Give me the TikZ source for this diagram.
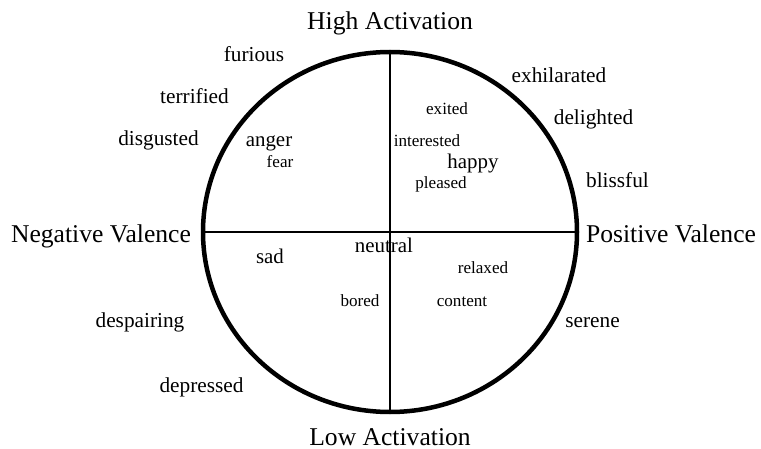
\documentclass[tikz,border=0pt]{standalone}
\usepackage{fontspec}
\setmainfont{Liberation Serif}
\usetikzlibrary{shapes.geometric}

\tikzset{
  lbl/.style={anchor=base, inner sep=0pt, outer sep=0pt},
  axislbl/.style={lbl, font=\fontsize{25.6}{30}\selectfont},
  outerlbl/.style={lbl, font=\fontsize{21.3}{25}\selectfont},
  biglbl/.style={lbl, font=\fontsize{20.9}{25}\selectfont},
  smalllbl/.style={lbl, font=\fontsize{17.1}{21}\selectfont},
  rim/.style={draw, line width=4.5pt, ellipse, inner sep=0pt, outer sep=0pt,
              minimum width=374pt, minimum height=360pt},
  axis/.style={line width=2.2pt}
}

\begin{document}
\begin{tikzpicture}[x=1pt, y=-1pt]
  \useasboundingbox (0,0) rectangle (761,449);

  % circumplex
  \node[rim] (c) at (390,232) {};
  \draw[axis] (c.north) -- (c.south);
  \draw[axis] (c.west) -- (c.east);

  % axis labels
  \node[axislbl] (high) at (390,30) {High Activation};
  \node[axislbl] (low) at (390,445) {Low Activation};
  \node[axislbl] (neg) at (101,243) {Negative Valence};
  \node[axislbl] (pos) at (671,243) {Positive Valence};

  % emotions outside the circle
  \node[outerlbl] (furious) at (254,62) {furious};
  \node[outerlbl] (terrified) at (194.5,104) {terrified};
  \node[outerlbl] (disgusted) at (158.5,146) {disgusted};
  \node[outerlbl] (exhilarated) at (559,83) {exhilarated};
  \node[outerlbl] (delighted) at (593.5,125) {delighted};
  \node[outerlbl] (blissful) at (617.5,188) {blissful};
  \node[outerlbl] (despairing) at (140,327) {despairing};
  \node[outerlbl] (serene) at (592.5,327) {serene};
  \node[outerlbl] (depressed) at (201.5,392) {depressed};

  % emotions inside the circle
  \node[biglbl] (anger) at (269,147) {anger};
  \node[smalllbl] (fear) at (280,168) {fear};
  \node[smalllbl] (exited) at (447,115) {exited};
  \node[smalllbl] (interested) at (427,147) {interested};
  \node[biglbl] (happy) at (473,169) {happy};
  \node[smalllbl] (pleased) at (441,189) {pleased};
  \node[biglbl] (neutral) at (384,253) {neutral};
  \node[biglbl] (sad) at (270,264) {sad};
  \node[smalllbl] (relaxed) at (483,274) {relaxed};
  \node[smalllbl] (bored) at (360,307) {bored};
  \node[smalllbl] (content) at (462,307) {content};
\end{tikzpicture}
\end{document}
